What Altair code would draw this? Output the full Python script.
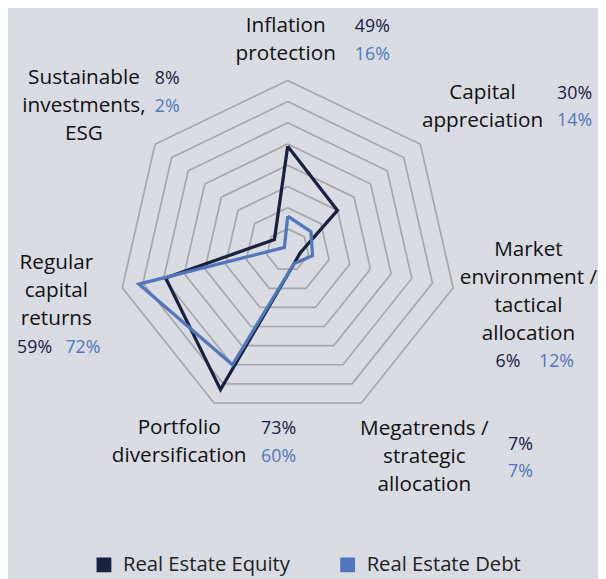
import altair as alt
import pandas as pd

# ---------------- data ----------------
categories = [
    "Inflation protection",
    "Capital appreciation",
    "Market environment / tactical allocation",
    "Megatrends / strategic allocation",
    "Portfolio diversification",
    "Regular capital returns",
    "Sustainable investments, ESG",
]
label_lines = [
    ["Inflation", "protection"],
    ["Capital", "appreciation"],
    ["Market", "environment /", "tactical", "allocation"],
    ["Megatrends /", "strategic", "allocation"],
    ["Portfolio", "diversification"],
    ["Regular", "capital", "returns"],
    ["Sustainable", "investments,", "ESG"],
]
equity = [49, 30, 6, 7, 73, 59, 8]
debt = [16, 14, 12, 7, 60, 72, 2]
series_names = ["Real Estate Equity", "Real Estate Debt"]
grid_levels = [10, 20, 30, 40, 50, 60, 70, 80]

# ---------------- style / layout ----------------
W, H = 598, 571
CX, CY = 283.5, 241.5      # centre of the radar in svg pixels
K = 2.15                   # pixels per percentage point
BG = "#d9dce3"
GRID = "#a6a6a6"
COLORS = ["#18213f", "#5176bc"]
FONT = "Open Sans"
N = len(categories)

# label anchors (pixels): centre x, first baseline y
label_pos = [(281.5, 20.3), (481, 88), (527.5, 247), (422, 428.7),
             (173.5, 428), (49, 260.3), (77, 72.7)]
# percentage anchors (pixels, right aligned): (eq_x, eq_y, debt_x, debt_y)
pct_pos = [(387, 20.3, 387, 48.7), (592, 88, 592, 115.3),
           (519.3, 359.7, 573.7, 359.7), (532, 443.7, 532, 471.3),
           (292, 428, 292, 456), (44.7, 345.3, 93.7, 345.3),
           (174, 72.7, 174, 101.3)]

xdom = [-CX / K, (W - CX) / K]
ydom = [-(H - CY) / K, CY / K]
xs = alt.Scale(domain=xdom, range=[0, W], nice=False, zero=False)
ys = alt.Scale(domain=ydom, range=[H, 0], nice=False, zero=False)
cscale = alt.Scale(domain=series_names, range=COLORS)

# ---------------- tables ----------------
grid_df = pd.DataFrame([
    {"level": lv, "k": k} for lv in grid_levels for k in range(N + 1)
])

series_rows = []
for name, vals in zip(series_names, [equity, debt]):
    for k in range(N + 1):
        series_rows.append({"series": name, "k": k, "value": vals[k % N]})
series_df = pd.DataFrame(series_rows)

label_df = pd.DataFrame({
    "lines": label_lines,
    "lx": [p[0] for p in label_pos],
    "ly": [p[1] for p in label_pos],
})

pct_rows = []
for i in range(N):
    pct_rows.append({"series": series_names[0], "txt": f"{equity[i]}%",
                     "px": pct_pos[i][0], "py": pct_pos[i][1]})
    pct_rows.append({"series": series_names[1], "txt": f"{debt[i]}%",
                     "px": pct_pos[i][2], "py": pct_pos[i][3]})
pct_df = pd.DataFrame(pct_rows)

# ---------------- layers ----------------
polar_x = f"datum.r * sin(2 * PI * datum.k / {N})"
polar_y = f"datum.r * cos(2 * PI * datum.k / {N})"

grid = alt.Chart(grid_df).transform_calculate(
    r="datum.level"
).transform_calculate(px=polar_x, py=polar_y).mark_line(
    color=GRID, strokeWidth=1.7, strokeJoin="miter"
).encode(
    x=alt.X("px:Q", scale=xs, axis=None),
    y=alt.Y("py:Q", scale=ys, axis=None),
    detail="level:N",
    order="k:Q",
)


def series_layer(name, legend):
    return alt.Chart(series_df).transform_filter(
        alt.datum.series == name
    ).transform_calculate(r="datum.value").transform_calculate(
        px=polar_x, py=polar_y
    ).mark_line(strokeWidth=3.3, strokeJoin="miter").encode(
        x=alt.X("px:Q", scale=xs, axis=None),
        y=alt.Y("py:Q", scale=ys, axis=None),
        color=alt.Color("series:N", scale=cscale, legend=legend, sort=series_names),
        order="k:Q",
    )


legend = alt.Legend(
    title=None, orient="none", legendX=87, legendY=550, direction="horizontal",
    symbolType="square", symbolSize=64, symbolStrokeWidth=7,
    labelFont=FONT, labelFontSize=20.5, labelColor="#222222", labelOffset=9,
    columnPadding=40, labelLimit=0,
)
eq_line = series_layer(series_names[0], legend)
debt_line = series_layer(series_names[1], None)

labels = alt.Chart(label_df).mark_text(
    font=FONT, fontSize=21, color="#111111", align="center",
    baseline="alphabetic", lineHeight=28.4,
).encode(
    x=alt.X("lx:Q", scale=None),
    y=alt.Y("ly:Q", scale=None),
    text="lines",
)

pcts = alt.Chart(pct_df).mark_text(
    font=FONT, fontSize=18, align="right", baseline="alphabetic",
).encode(
    x=alt.X("px:Q", scale=None),
    y=alt.Y("py:Q", scale=None),
    text="txt:N",
    color=alt.Color("series:N", scale=cscale, legend=None),
)

chart = alt.layer(grid, eq_line, debt_line, labels, pcts).properties(
    width=W, height=H, background=BG, padding=0,
    autosize=alt.AutoSizeParams(type="none"),
).configure_view(stroke=None)

chart.save("out.html", embed_options={"renderer": "svg", "actions": False})
